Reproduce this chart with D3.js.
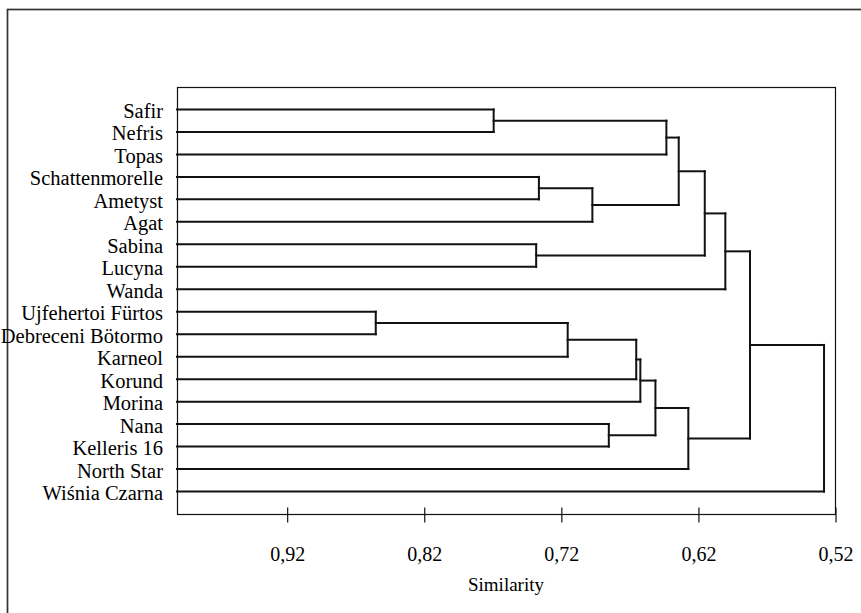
<!DOCTYPE html>
<html lang="en">
<head>
    <meta charset="UTF-8">
    <title>Dendrogram - similarity</title>
    <style>
        body { margin: 0; background: #fff; }
    </style>
</head>
<body>
<div id="chart"></div>

<script src="https://d3js.org/d3.v7.min.js"></script>
<script type="text/javascript">

        // leaves, top to bottom
        const leaves = ["Safir", "Nefris", "Topas", "Schattenmorelle", "Ametyst", "Agat",
                "Sabina", "Lucyna", "Wanda", "Ujfehertoi Fürtos", "Debreceni Bötormo",
                "Karneol", "Korund", "Morina", "Nana", "Kelleris 16", "North Star", "Wiśnia Czarna"];

        // merges: ids 0-17 are leaves, merge i gets id 18 + i
        const linkLeft  = [0, 18, 3, 20, 19, 6, 22, 24, 9, 26, 27, 28, 14, 29, 31, 25, 33];
        const linkRight = [1, 2, 4, 5, 21, 7, 23, 8, 10, 11, 12, 13, 15, 30, 16, 32, 17];
        const linkSimilarity = [0.769, 0.643, 0.736, 0.697, 0.634, 0.738, 0.615, 0.600,
                0.855, 0.715, 0.665, 0.662, 0.685, 0.651, 0.627, 0.582, 0.528];

        const tickValues = [0.92, 0.82, 0.72, 0.62, 0.52];
        const tickLabels = ["0,92", "0,82", "0,72", "0,62", "0,52"];

        const width = 861;
        const height = 613;
        const box = {left: 177, right: 835, top: 87, bottom: 514};
        const serif = "Liberation Serif";

        const svg = d3.select("#chart")
                .append("svg")
                .attr("width", width)
                .attr("height", height);

        // outer frame (runs off the right and bottom edges)
        svg.append("rect")
                .attr("x", 7.5)
                .attr("y", 9.5)
                .attr("width", 900)
                .attr("height", 700)
                .attr("fill", "none")
                .attr("stroke", "#333")
                .attr("stroke-width", 1.7);

        const x = d3.scaleLinear()
                .domain([1.0, 0.52])
                .range([box.left, box.right]);

        const y = d3.scalePoint()
                .domain(leaves)
                .range([box.top, box.bottom])
                .padding(1);

        // positions of every node
        const nodes = leaves.map(d => ({x: x.domain()[0], y: y(d)}));
        const segs = [];
        for (let i = 0; i < linkSimilarity.length; i++) {
                const a = nodes[linkLeft[i]];
                const b = nodes[linkRight[i]];
                const h = linkSimilarity[i];
                segs.push([a.x, a.y, h, a.y]);
                segs.push([b.x, b.y, h, b.y]);
                segs.push([h, a.y, h, b.y]);
                nodes.push({x: h, y: (a.y + b.y) / 2});
        }

        // plot box
        svg.append("rect")
                .attr("x", box.left + 0.5)
                .attr("y", box.top + 0.5)
                .attr("width", box.right - box.left)
                .attr("height", box.bottom - box.top)
                .attr("fill", "none")
                .attr("stroke", "#111")
                .attr("stroke-width", 1.2);

        // axis
        const axis = d3.axisBottom(x)
                .tickValues(tickValues)
                .tickFormat((d, i) => tickLabels[i])
                .tickSizeInner(8)
                .tickSizeOuter(0)
                .tickPadding(24);

        const gx = svg.append("g")
                .attr("transform", `translate(0.5,${box.bottom + 0.5})`)
                .call(axis);
        gx.attr("font-family", serif).attr("font-size", 20);
        gx.select(".domain").remove();
        gx.selectAll(".tick line")
                .attr("y1", -7)
                .attr("stroke", "#111")
                .attr("stroke-width", 1.2);
        gx.selectAll(".tick text")
                .attr("fill", "#000");

        svg.append("text")
                .attr("x", (box.left + box.right) / 2)
                .attr("y", 591)
                .attr("text-anchor", "middle")
                .attr("font-family", serif)
                .attr("font-size", 19)
                .attr("fill", "#000")
                .text("Similarity");

        // dendrogram
        svg.append("g")
                .selectAll("line")
                .data(segs)
                .enter()
                .append("line")
                .attr("x1", d => x(d[0]))
                .attr("y1", d => d[1])
                .attr("x2", d => x(d[2]))
                .attr("y2", d => d[3])
                .attr("stroke", "#111")
                .attr("stroke-width", 2)
                .attr("stroke-linecap", "square");

        // leaf labels
        svg.append("g")
                .selectAll("text")
                .data(leaves)
                .enter()
                .append("text")
                .attr("x", 163)
                .attr("y", d => y(d) + 8.5)
                .attr("text-anchor", "end")
                .attr("font-family", serif)
                .attr("font-size", 20.5)
                .attr("fill", "#000")
                .text(d => d);

</script>
</body>
</html>
